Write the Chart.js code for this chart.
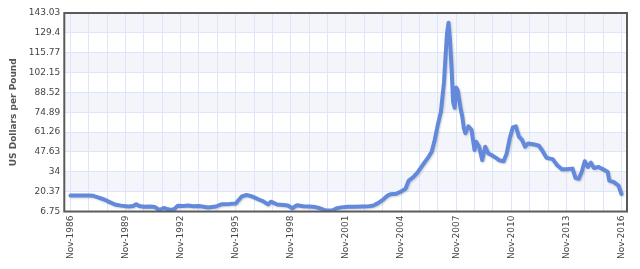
<!DOCTYPE html>
<html>
<head>
<meta charset="utf-8">
<script src="https://cdn.jsdelivr.net/npm/chart.js@4"></script>
<style>
  html, body { margin: 0; padding: 0; background: #fff; }
  #wrap { width: 640px; height: 269px; }
</style>
</head>
<body>
<div id="wrap"><canvas id="chart" width="640" height="269"></canvas></div>
<script>
const months = [
  '1986-11', '1987-05', '1987-11', '1988-02', '1988-05', '1988-09', '1989-01', '1989-04', '1989-08',
  '1990-01', '1990-04', '1990-06', '1990-08', '1990-11', '1991-03', '1991-06', '1991-09', '1991-12',
  '1992-02', '1992-05', '1992-07', '1992-09', '1993-01', '1993-04', '1993-07', '1993-11', '1994-05',
  '1994-10', '1995-02', '1995-07', '1995-11', '1996-03', '1996-06', '1996-09', '1996-11', '1997-02',
  '1997-05', '1997-08', '1997-10', '1998-02', '1998-06', '1998-09', '1998-12', '1999-03', '1999-07',
  '1999-11', '2000-03', '2000-06', '2000-10', '2001-02', '2001-05', '2001-08', '2001-12', '2002-05',
  '2002-10', '2003-02', '2003-05', '2003-08', '2003-11', '2004-02', '2004-04', '2004-08', '2004-11',
  '2005-02', '2005-04', '2005-07', '2005-10', '2006-01', '2006-05', '2006-07', '2006-09', '2006-11',
  '2007-01', '2007-03', '2007-04', '2007-05', '2007-06', '2007-07', '2007-08', '2007-09', '2007-10',
  '2007-11', '2007-12', '2008-02', '2008-03', '2008-04', '2008-05', '2008-07', '2008-09', '2008-11',
  '2008-12', '2009-02', '2009-04', '2009-06', '2009-08', '2009-10', '2010-01', '2010-03', '2010-06',
  '2010-08', '2010-10', '2010-12', '2011-02', '2011-04', '2011-06', '2011-08', '2011-10', '2012-02',
  '2012-05', '2012-07', '2012-10', '2013-02', '2013-05', '2013-08', '2013-11', '2014-03', '2014-05',
  '2014-07', '2014-09', '2014-11', '2015-01', '2015-03', '2015-05', '2015-08', '2015-11', '2016-02',
  '2016-03', '2016-06', '2016-09', '2016-11'
];

const prices = [
  17.7, 17.7, 17.7, 17.5, 16.5, 15.0, 13.0, 11.6, 10.8,
  10.2, 10.5, 11.8, 10.6, 10.0, 10.2, 9.9, 7.8, 9.2,
  8.5, 7.8, 8.5, 10.7, 10.6, 10.9, 10.4, 10.6, 9.5,
  10.2, 11.8, 12.0, 12.3, 17.2, 18.1, 17.3, 16.5, 15.0,
  13.7, 11.6, 13.5, 11.6, 11.2, 10.9, 9.0, 11.1, 10.4,
  10.2, 9.8, 9.0, 7.4, 7.4, 9.0, 9.6, 10.0, 10.0,
  10.2, 10.4, 10.9, 12.5, 14.7, 17.5, 18.6, 19.0, 20.5,
  22.5, 28.0, 30.4, 33.9, 38.5, 44.3, 47.8, 55.9, 66.3,
  75.0, 95.0, 112.0, 129.0, 136.3, 124.0, 105.0, 82.0, 78.0,
  91.8, 90.0, 76.8, 72.0, 64.0, 60.5, 65.2, 62.9, 49.0,
  54.7, 51.2, 42.0, 51.2, 46.6, 45.5, 43.6, 42.0, 41.3,
  46.6, 57.0, 64.5, 65.2, 58.2, 55.9, 51.2, 53.5, 52.8,
  51.9, 49.0, 43.6, 42.7, 38.5, 35.7, 35.7, 36.2, 29.7,
  29.2, 33.9, 41.3, 37.3, 40.3, 36.6, 37.3, 35.7, 33.9,
  28.0, 26.9, 24.6, 18.8
];

const xTickLabels = [
  'Nov-1986', 'Nov-1989', 'Nov-1992', 'Nov-1995', 'Nov-1998', 'Nov-2001',
  'Nov-2004', 'Nov-2007', 'Nov-2010', 'Nov-2013', 'Nov-2016'
];
const yTickLabels = [
  '6.75', '20.37', '34', '47.63', '61.26', '74.89', '88.52', '102.15', '115.77', '129.4', '143.03'
];

const yMin = 6.75;
const yMax = 143.03;

// months since Nov-1986
function monthIndex(s) {
  const [y, m] = s.split('-').map(Number);
  return (y - 1986) * 12 + (m - 11);
}

const points = months.map((s, i) => ({ x: monthIndex(s), y: prices[i] }));

const bandsPlugin = {
  id: 'bands',
  beforeDraw(chart) {
    const { ctx, chartArea } = chart;
    const y = chart.scales.y;
    const step = (yMax - yMin) / (yTickLabels.length - 1);
    ctx.save();
    ctx.fillStyle = '#f3f5fb';
    for (let i = 1; i < yTickLabels.length - 1; i += 2) {
      const top = y.getPixelForValue(yMin + (i + 1) * step);
      const bottom = y.getPixelForValue(yMin + i * step);
      ctx.fillRect(chartArea.left, top, chartArea.right - chartArea.left, bottom - top);
    }
    ctx.restore();
  },
  beforeDatasetDraw(chart) {
    const ctx = chart.ctx;
    ctx.save();
    ctx.shadowColor = 'rgba(0,0,0,0.18)';
    ctx.shadowOffsetX = 1;
    ctx.shadowOffsetY = 1;
    ctx.shadowBlur = 2;
  },
  afterDatasetDraw(chart) {
    chart.ctx.restore();
  },
  afterDraw(chart) {
    const { ctx, chartArea } = chart;
    ctx.save();
    ctx.strokeStyle = '#5a5a5a';
    ctx.lineWidth = 2;
    ctx.strokeRect(chartArea.left, chartArea.top, chartArea.right - chartArea.left, chartArea.bottom - chartArea.top);
    ctx.restore();
  }
};

Chart.defaults.font.family = "'DejaVu Sans', Verdana, sans-serif";
Chart.defaults.font.size = 9;
Chart.defaults.color = '#444';

new Chart(document.getElementById('chart'), {
  type: 'line',
  data: {
    datasets: [{
      data: points,
      borderColor: '#6389dc',
      borderWidth: 4,
      borderJoinStyle: 'round',
      borderCapStyle: 'round',
      pointRadius: 0,
      tension: 0,
      fill: false
    }]
  },
  options: {
    responsive: false,
    animation: false,
    layout: { padding: { top: 13, right: 13, bottom: 6, left: 8 } },
    plugins: {
      legend: { display: false },
      tooltip: { enabled: false }
    },
    scales: {
      x: {
        type: 'linear',
        min: -4,
        max: 363.6,
        afterBuildTicks: (scale) => {
          const ticks = [];
          for (let m = 0; m <= 360; m += 12) ticks.push({ value: m });
          scale.ticks = ticks;
        },
        ticks: {
          autoSkip: false,
          minRotation: 90,
          maxRotation: 90,
          padding: 4,
          callback: (v) => (v % 36 === 0 ? xTickLabels[v / 36] : '')
        },
        grid: { color: '#dce6f8', drawTicks: false },
        border: { display: false }
      },
      y: {
        min: yMin,
        max: yMax,
        afterBuildTicks: (scale) => {
          const step = (yMax - yMin) / (yTickLabels.length - 1);
          scale.ticks = yTickLabels.map((_, i) => ({ value: yMin + i * step }));
        },
        ticks: {
          padding: 4,
          callback: (v, i) => yTickLabels[i]
        },
        grid: { color: '#dce6f8', drawTicks: false },
        border: { display: false },
        title: {
          display: true,
          text: 'US Dollars per Pound',
          color: '#555',
          font: { weight: 'bold', size: 9 },
          padding: { top: 0, bottom: 6 }
        }
      }
    }
  },
  plugins: [bandsPlugin]
});
</script>
</body>
</html>
